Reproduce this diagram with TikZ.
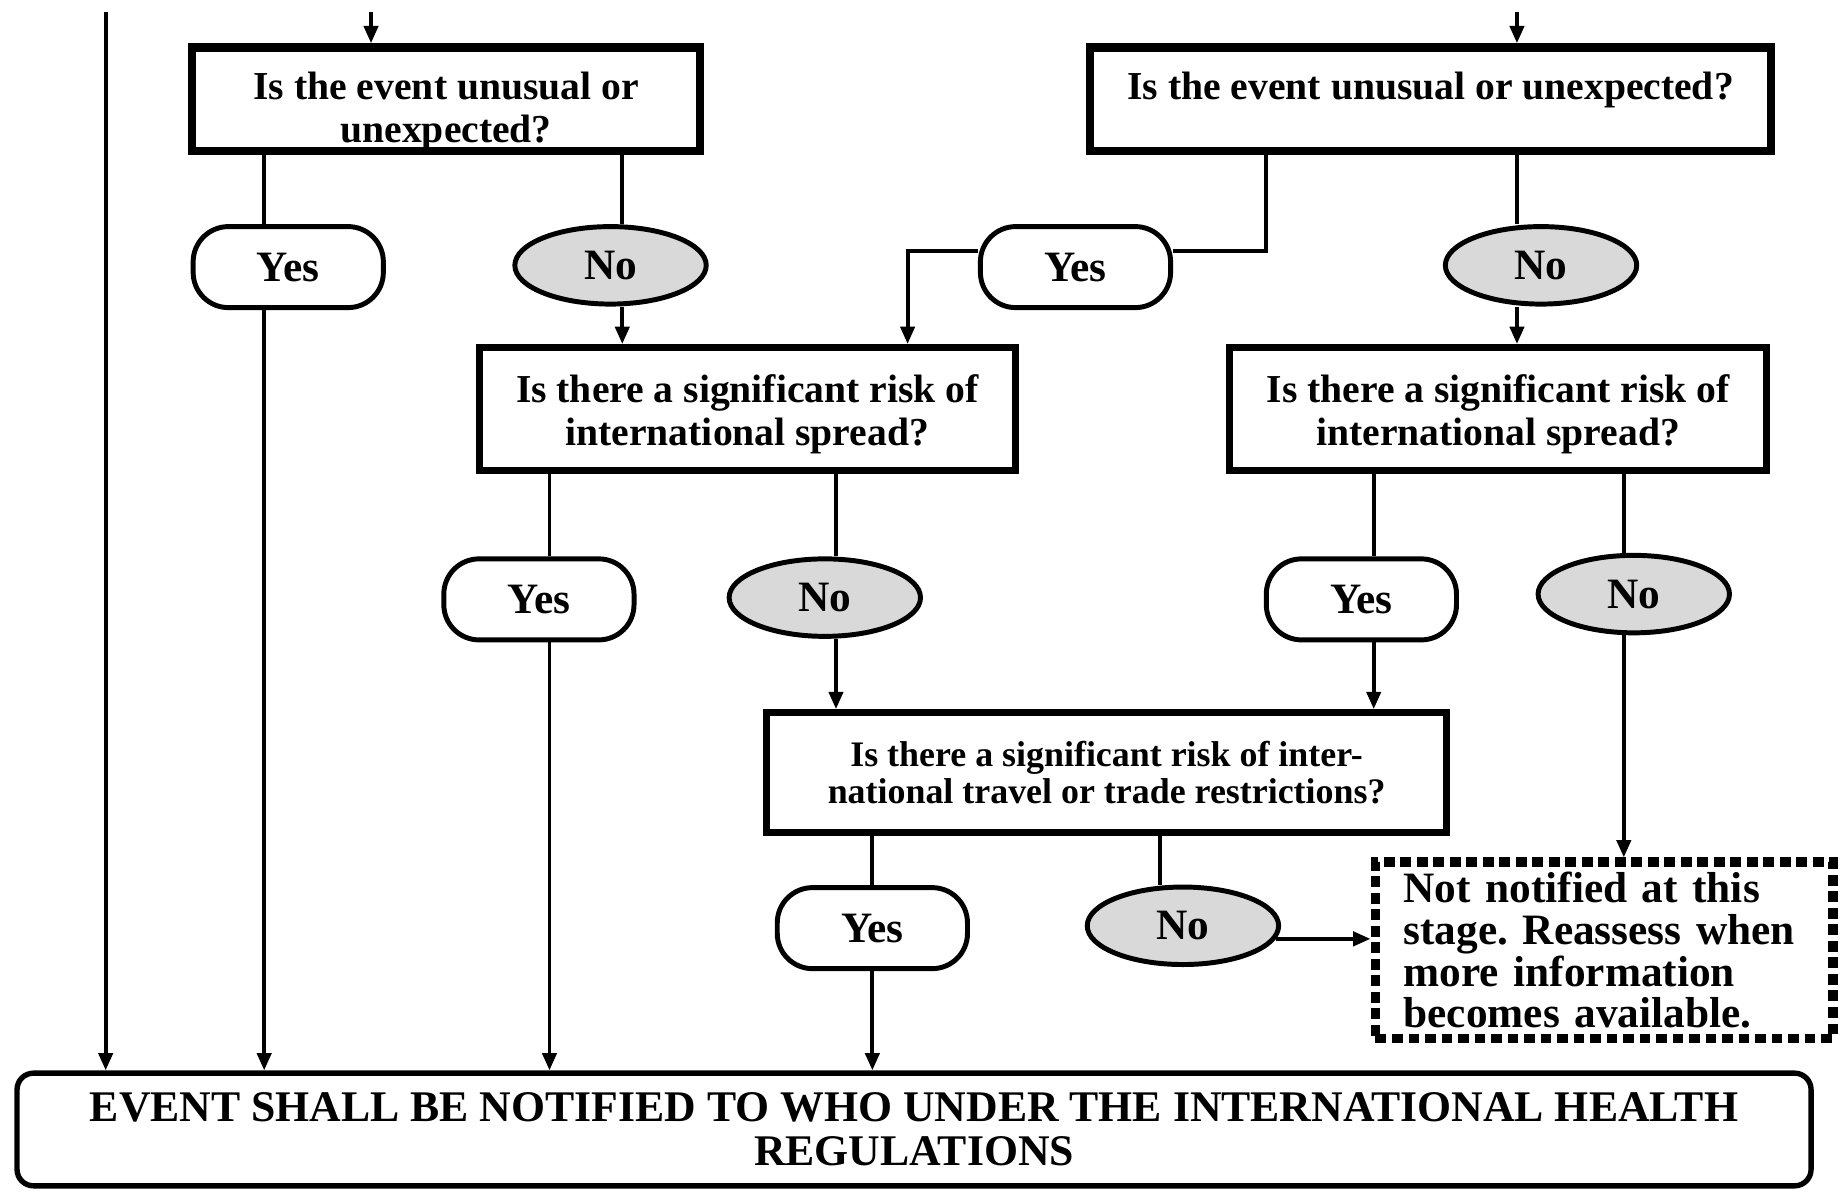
\documentclass[tikz,border=0pt]{standalone}
\usepackage{fontspec}
\setmainfont{Liberation Serif}
\usetikzlibrary{arrows.meta}
\usetikzlibrary{shapes.geometric}
\frenchspacing

\tikzset{
  question/.style={draw, line width=1.7pt, align=center, inner sep=0pt,
    font=\fontsize{9.6}{10.3}\selectfont\bfseries},
  yesbox/.style={draw, line width=1.2pt, rounded corners=0.3cm,
    minimum width=1.62cm, minimum height=0.69cm, inner sep=0pt,
    font=\fontsize{10.5}{12}\selectfont\bfseries},
  nobox/.style={draw, ellipse, fill=gray!30, line width=1.2pt,
    minimum width=1.63cm, minimum height=0.66cm, inner sep=0pt,
    font=\fontsize{10.5}{12}\selectfont\bfseries},
  link/.style={line width=0.95pt},
}

\begin{document}
\begin{tikzpicture}[x=1cm, y=1cm, >={Triangle[length=4.2pt,width=3.4pt]}]
      \useasboundingbox (0,0) rectangle (15.68,-10.17);

      % questions
      \node[question, line width=2pt, minimum width=4.33cm, minimum height=0.86cm, text height=23pt, text depth=2.1pt] (qA) at (3.80,-0.845) {Is the event unusual or\\unexpected?};
      \node[question, line width=2pt, minimum width=5.80cm, minimum height=0.86cm, text height=23pt, text depth=2.1pt] (qB) at (12.185,-0.845) {Is the event unusual or unexpected?\\\mbox{}};
      \node[question, minimum width=4.57cm, minimum height=1.05cm, text height=19.7pt, text depth=2.1pt] (qC) at (6.365,-3.485) {Is there a significant risk of\\international spread?};
      \node[question, minimum width=4.57cm, minimum height=1.05cm, text height=19.7pt, text depth=2.1pt] (qD) at (12.76,-3.485) {Is there a significant risk of\\international spread?};
      \node[question, minimum width=5.79cm, minimum height=1.02cm, font=\fontsize{8.7}{9}\selectfont\bfseries] (qE) at (9.425,-6.58) {Is there a significant risk of inter-\\national travel or trade restrictions?};

      % answers
      \node[yesbox] (yA) at (2.455,-2.275) {Yes};
      \node[nobox] (nA) at (5.20,-2.26) {No};
      \node[yesbox] (yB) at (9.16,-2.275) {Yes};
      \node[nobox] (nB) at (13.125,-2.26) {No};
      \node[yesbox] (yC) at (4.59,-5.105) {Yes};
      \node[nobox] (nC) at (7.025,-5.09) {No};
      \node[yesbox] (yD) at (11.595,-5.105) {Yes};
      \node[nobox] (nD) at (13.915,-5.06) {No};
      \node[yesbox] (yE) at (7.43,-7.905) {Yes};
      \node[nobox] (nE) at (10.075,-7.885) {No};

      % outcomes
      \node[draw, line width=2.4pt, dash pattern=on 2.6pt off 1.4pt, align=left, text width=3.42cm, inner xsep=0.24cm, inner ysep=0pt, minimum height=1.5cm, font=\fontsize{10.5}{10.1}\selectfont\bfseries] (nt) at (13.665,-8.095) {Not notified at this\\stage. Reassess when\\more information\\becomes available.};
      \node[draw, line width=1.3pt, rounded corners=4pt, align=center, minimum width=15.28cm, minimum height=0.96cm, font=\fontsize{10.6}{10.6}\selectfont\bfseries] (ev) at (7.785,-9.62) {EVENT SHALL BE NOTIFIED TO WHO UNDER THE INTERNATIONAL HEALTH\\REGULATIONS};

      \coordinate (inL) at (0.90,-0.10);
      \coordinate (inA) at (3.16,-0.10);
      \coordinate (inB) at (12.92,-0.10);

      \draw[link,->] (inL) -- (inL |- ev.north);
      \draw[link,->] (inA) -- (inA |- qA.north);
      \draw[link,->] (inB) -- (inB |- qB.north);

      % unusual or unexpected, left
      \draw[link] (2.25,0 |- qA.south) -- (2.25,0 |- yA.north);
      \draw[link,->] (2.25,0 |- yA.south) -- (2.25,0 |- ev.north);
      \draw[link] (5.30,0 |- qA.south) -- (5.30,0 |- nA.north);
      \draw[link,->] (5.30,0 |- nA.south) -- (5.30,0 |- qC.north);

      % unusual or unexpected, right
      \draw[link] (10.78,0 |- qB.south) |- ([yshift=1.35mm]yB.east);
      \draw[link,->] ([yshift=1.35mm]yB.west) -| (7.73,0 |- qC.north);
      \draw[link] (12.92,0 |- qB.south) -- (12.92,0 |- nB.north);
      \draw[link,->] (12.92,0 |- nB.south) -- (12.92,0 |- qD.north);

      % international spread, left
      \draw[link] (4.68,0 |- qC.south) -- (4.68,0 |- yC.north);
      \draw[link,->] (4.68,0 |- yC.south) -- (4.68,0 |- ev.north);
      \draw[link] (7.12,0 |- qC.south) -- (7.12,0 |- nC.north);
      \draw[link,->] (7.12,0 |- nC.south) -- (7.12,0 |- qE.north);

      % international spread, right
      \draw[link] (11.70,0 |- qD.south) -- (11.70,0 |- yD.north);
      \draw[link,->] (11.70,0 |- yD.south) -- (11.70,0 |- qE.north);
      \draw[link] (13.83,0 |- qD.south) -- (13.83,0 |- nD.north);
      \draw[link,->] (13.83,0 |- nD.south) -- (13.83,0 |- nt.north);

      % travel or trade
      \draw[link] (yE.north |- qE.south) -- (yE.north);
      \draw[link,->] (yE.south) -- (yE.south |- ev.north);
      \draw[link] (9.88,0 |- qE.south) -- (9.88,0 |- nE.north);
      \draw[link,->] (nE.-8) -- (nE.-8 -| nt.west);
    \end{tikzpicture}
\end{document}
